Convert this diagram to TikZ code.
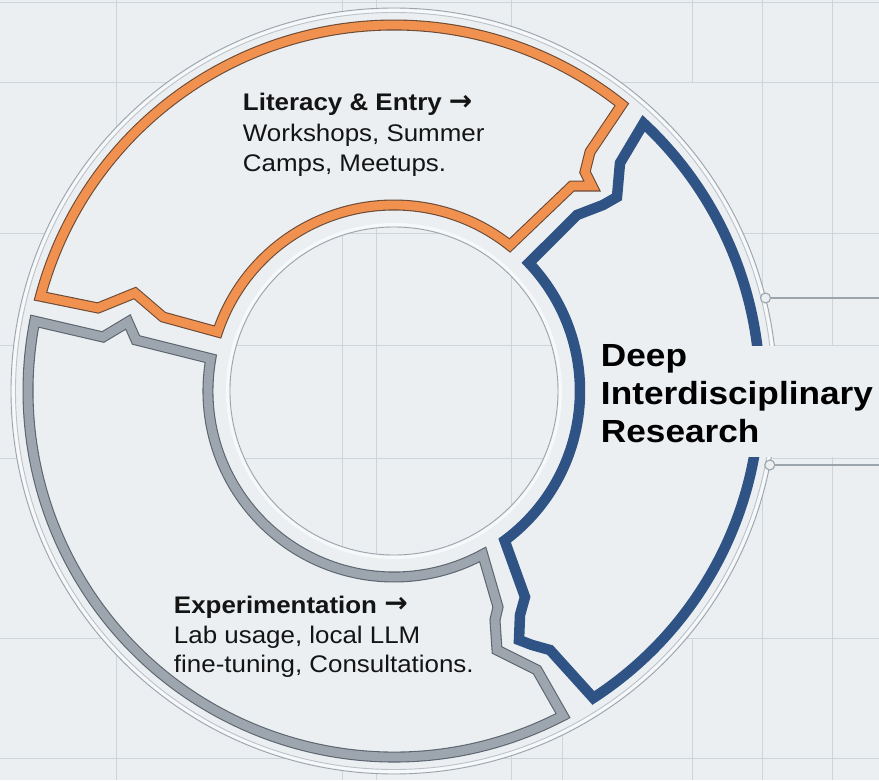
\documentclass[tikz,border=0pt]{standalone}
\usepackage{fontspec}
\newfontfamily\bodyfont{Liberation Sans}[FakeStretch=1.08]
\newfontfamily\titlefont{Liberation Sans}[FakeStretch=1.10]
\newfontfamily\arrowfont{DejaVu Sans}
\newcommand{\boldarrow}{{\arrowfont\bfseries\fontsize{28}{30}\selectfont\raisebox{0.5pt}{→}}}
\definecolor{bgc}{HTML}{EBEFF2}
\definecolor{gridc}{HTML}{CDD4DA}
\definecolor{ringc}{HTML}{9CA4AC}
\definecolor{orangec}{HTML}{F0914F}
\definecolor{orangeedge}{HTML}{6E4A34}
\definecolor{bluec}{HTML}{2F5384}
\definecolor{grayc}{HTML}{9DA6AF}
\definecolor{grayedge}{HTML}{5C656E}
\definecolor{txtc}{HTML}{141414}
\begin{document}
\begin{tikzpicture}[x=1pt,y=1pt,
  gridline/.style={draw=gridc, line width=1pt},
  thinring/.style={draw=ringc, line width=0.9pt},
  bandedge/.style={line width=11pt, line join=miter, miter limit=4},
  bandfill/.style={line width=8.8pt, line join=miter, miter limit=4},
  bodytext/.style={anchor=base west, inner sep=0pt, outer sep=0pt, text=txtc, font=\bodyfont\fontsize{24}{30}\selectfont},
  boldtext/.style={bodytext, font=\bodyfont\bfseries\fontsize{24}{30}\selectfont},
  titletext/.style={anchor=base west, inner sep=0pt, outer sep=0pt, text=black, font=\titlefont\bfseries\fontsize{32}{38}\selectfont},
  dotc/.style={circle, draw=ringc, fill=bgc, line width=1.1pt, minimum size=10pt, inner sep=0pt},
  conn/.style={draw=ringc, line width=1.1pt}
]
% background and bounding box
\path[use as bounding box, fill=bgc] (-394,391) rectangle (485,-389);
% grid
\foreach \gx in {117,343,377,512,762,832}
  \draw[gridline] (\gx-394,391) -- (\gx-394,-389);
\draw[gridline] (298,391) -- (298,308);
\draw[gridline] (298,-247) -- (298,-389);
\draw[gridline] (169,-336) -- (169,-389);
\foreach \gy in {3,83,233,345,458,638,758}
  \draw[gridline] (-394,391-\gy) -- (485,391-\gy);
% ring body
\fill[bgc, even odd rule] (0,0) circle[radius=383] (0,0) circle[radius=164];
\draw[white, line width=3pt, opacity=0.6] (0,0) circle[radius=380.5];
\draw[white, line width=3pt, opacity=0.6] (0,0) circle[radius=166.5];
\draw[thinring] (0,0) circle[radius=383];
\draw[thinring, draw opacity=0.6] (0,0) circle[radius=378.5];
\draw[thinring] (0,0) circle[radius=164];
% orange segment
\def\orangepath{(165:366) arc[start angle=165, end angle=51.5, radius=366]
  -- (196,239) -- (191,219) -- (198,205) -- (178,205) -- (51.5:186)
  arc[start angle=51.5, end angle=161.5, radius=186]
  -- (-231,74) -- (-259,98) -- (-296,83) -- cycle}
\draw[bandedge, orangeedge] \orangepath;
\draw[bandfill, orangec] \orangepath;
% gray segment
\def\graypath{(169:366) -- (-291,54) -- (-266,69) -- (-258,51) -- (170:186)
  arc[start angle=170, end angle=298.5, radius=186]
  -- (104,-216) -- (101,-229) -- (103,-259) -- (143,-279) -- (297.5:366)
  arc[start angle=297.5, end angle=169, radius=366] -- cycle}
\draw[bandedge, grayedge] \graypath;
\draw[bandfill, grayc] \graypath;
% blue segment
\def\bluepath{(47:366) arc[start angle=47, end angle=-57, radius=366]
  -- (156,-259) -- (138,-254) -- (125,-249) -- (126,-224) -- (131,-206) -- (-53.5:186)
  arc[start angle=-53.5, end angle=43.5, radius=186]
  -- (183,176) -- (209,186) -- (223,194) -- (226,228) -- cycle}
\draw[line width=10.5pt, line join=miter, bluec] \bluepath;
% label area on the right
\fill[bgc] (196,45) rectangle (485,-66);
% connectors
\node[dotc] (d1) at (371.5,93) {};
\node[dotc] (d2) at (375.8,-74) {};
\coordinate (e1) at (485,93);
\coordinate (e2) at (485,-74);
\draw[conn] (d1) -- (e1);
\draw[conn] (d2) -- (e2);
% texts
\node[boldtext] (lit1) at (-151,280) {Literacy \& Entry \boldarrow};
\node[bodytext] (lit2) at (-151,250) {Workshops, Summer};
\node[bodytext] (lit3) at (-151,220) {Camps, Meetups.};
\node[boldtext] (exp1) at (-220,-222) {Experimentation \boldarrow};
\node[bodytext] (exp2) at (-220,-252) {Lab usage, local LLM};
\node[bodytext] (exp3) at (-220,-281) {fine-tuning, Consultations.};
\node[titletext] (deep1) at (207,25) {Deep};
\node[titletext] (deep2) at (207,-13) {Interdisciplinary};
\node[titletext] (deep3) at (207,-51) {Research};
\end{tikzpicture}
\end{document}
